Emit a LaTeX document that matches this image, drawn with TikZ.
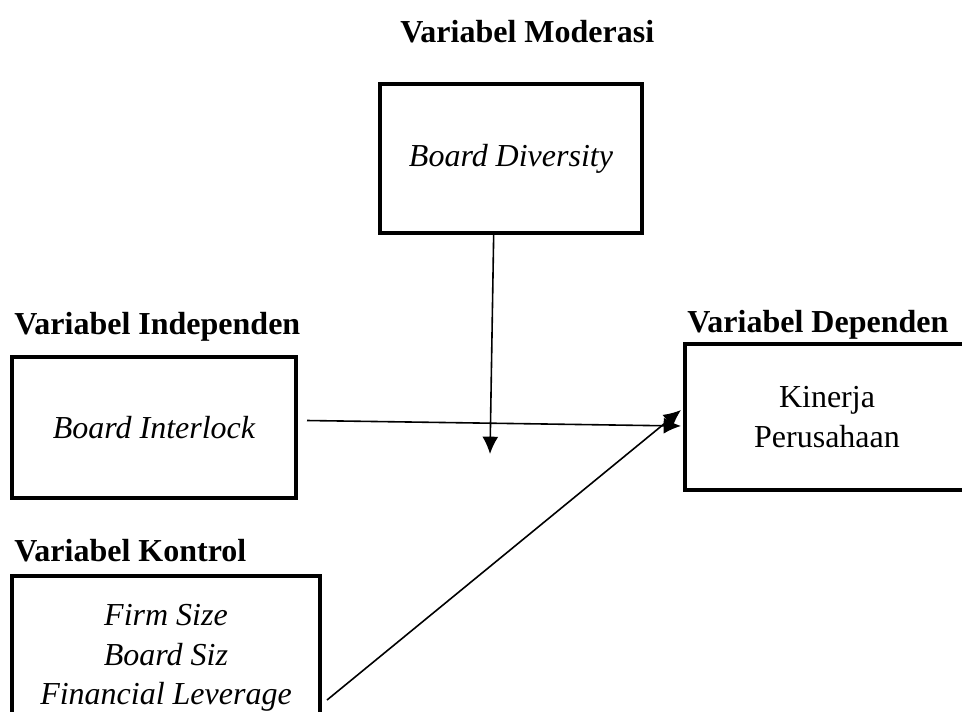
\documentclass[tikz,border=0pt]{standalone}
\usepackage{fontspec}
\setmainfont{Liberation Serif}
\usetikzlibrary{arrows.meta,positioning,calc}
\tikzset{
    varbox/.style={draw, line width=3pt, align=center, inner sep=0pt,
        font=\fontsize{24}{29.6}\selectfont},
    vartitle/.style={font=\fontsize{24}{29}\selectfont\bfseries, inner sep=0pt, anchor=west},
    link/.style={-{Latex[length=13pt,width=12pt]}, line width=1.2pt}
}

\begin{document}
\begin{tikzpicture}[x=0.75pt, y=-0.75pt]
    \useasboundingbox (0,0) rectangle (962,711);
    \clip (0,0) rectangle (962,711);
    % titles
    \node[vartitle] (tmod) at (400,32) {Variabel Moderasi};
    \node[vartitle] (tind) at (14,327) {Variabel Independen};
    \node[vartitle] (tdep) at (687,325) {Variabel Dependen};
    \node[vartitle] (tkon) at (14,551) {Variabel Kontrol};
    % boxes
    \node[varbox, minimum width=196.5pt, minimum height=111.75pt] (div) at (511,158.5) {\itshape Board Diversity};
    \node[varbox, minimum width=213pt, minimum height=105.75pt] (intl) at (154,427.5) {\itshape Board Interlock};
    \node[varbox, minimum width=213pt, minimum height=109.5pt] (kin) at (827,417) {Kinerja\\Perusahaan};
    \node[varbox, minimum width=231pt, minimum height=123pt] (kon) at (166,658) {\itshape Firm Size\\\itshape Board Siz\\\itshape Financial Leverage};
    % arrows
    \coordinate (modend) at (490,454);
    \draw[link] ([xshift=-13]div.south) -- (modend);
    \draw[link] ([shift={(9,-7)}]intl.east) -- ([shift={(-2,9)}]kin.west);
    \draw[link] ([shift={(5,42)}]kon.east) -- ([shift={(-2,-7)}]kin.west);
\end{tikzpicture}
\end{document}
